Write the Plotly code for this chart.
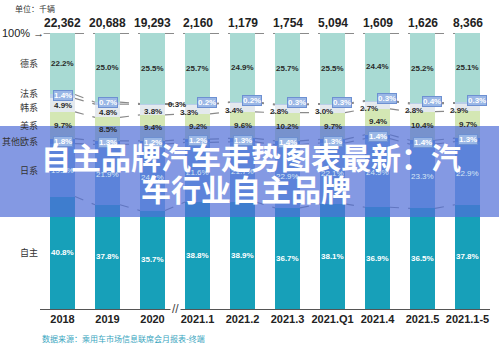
import plotly.graph_objects as go

categories = ["2018", "2019", "2020", "2021.1", "2021.2", "2021.3", "2021.Q1", "2021.4", "2021.5", "2021.1-5"]
totals = [22362, 20688, 19293, 2160, 1179, 1754, 5094, 1609, 1626, 8366]
zizhu = [40.8, 37.8, 35.7, 38.8, 38.9, 36.7, 38.1, 36.9, 36.5, 37.8]
rixi = [19.2, 21.9, 24.1, 21.6, 21.7, 22.9, 22.1, 24.9, 23.3, 22.9]
qita_ou = [1.8, 1.3, 1.2, 1.2, 1.3, 1.4, 1.3, 1.4, 1.4, 1.3]
meixi = [9.7, 8.5, 9.4, 9.2, 9.6, 10.2, 9.7, 9.4, 10.4, 9.7]
hanxi = [4.9, 4.8, 3.8, 3.3, 3.4, 2.8, 3.0, 2.7, 2.8, 2.9]
faxi = [1.4, 0.7, 0.3, 0.2, 0.2, 0.3, 0.3, 0.3, 0.4, 0.3]
dexi = [22.2, 25.0, 25.5, 25.7, 24.9, 25.7, 25.5, 24.4, 25.2, 25.1]

series_names = ["自主", "日系", "其他欧系", "美系", "韩系", "法系", "德系"]
series_vals = [zizhu, rixi, qita_ou, meixi, hanxi, faxi, dexi]
colors = ["#17a0b9", "#78b4e2", "#5b9bd5", "#d4e7b4", "#e4e9ee", "#b8cfe8", "#a8dad3"]

FONT = "Noto Sans CJK SC, Liberation Sans, sans-serif"
NUMFONT = "Liberation Sans, Arial, sans-serif"
BW = 0.556
xs = list(range(len(categories)))
YMAX = 100.1

fig = go.Figure()
for name, vals, col in zip(series_names, series_vals, colors):
    fig.add_trace(go.Bar(x=xs, y=vals, name=name, marker=dict(color=col, line=dict(width=0)),
                         width=BW, showlegend=False, hoverinfo="skip"))

n = len(categories)
cum = [[0.0] * n]
for vals in series_vals:
    cum.append([round(cum[-1][i] + vals[i], 6) for i in range(n)])

for b in range(1, len(cum)):
    cx, cy = [], []
    for i in range(n - 1):
        cx += [i + BW / 2, i + 1 - BW / 2, None]
        cy += [cum[b][i], cum[b][i + 1], None]
    fig.add_trace(go.Scatter(x=cx, y=cy, mode="lines", line=dict(color="#8a8a8a", width=1.2, dash="dash"),
                             showlegend=False, hoverinfo="skip"))
fig.add_trace(go.Scatter(x=[-0.42, -BW / 2], y=[cum[-1][0], cum[-1][0]], mode="lines",
                         line=dict(color="#8a8a8a", width=1.2, dash="dash"), showlegend=False, hoverinfo="skip"))

ann = []
left_shift = {"法系": 3, "韩系": -2}
for s, (name, vals) in enumerate(zip(series_names, series_vals)):
    for i in range(n):
        mid = (cum[s][i] + cum[s + 1][i]) / 2
        txt = f"{vals[i]:.1f}%"
        a = dict(x=i, y=mid, xref="x", yref="y", text=txt, showarrow=False,
                 font=dict(family=NUMFONT, size=8, color="#2a2a2a", weight="bold"))
        if name == "自主":
            a["font"]["color"] = "white"
        elif name == "日系":
            a["font"]["color"] = "#d6e6f5"
            a["font"]["weight"] = "normal"
        elif name in ("其他欧系", "法系"):
            a["font"]["color"] = "white"
            a["bgcolor"] = "#9ab7e6"
            a["bordercolor"] = "#6d90d2"
            a["borderwidth"] = 1
            a["borderpad"] = 0
            if name == "法系":
                if i == 2:
                    a["xshift"] = 24
                    a.pop("bgcolor"); a.pop("bordercolor"); a.pop("borderwidth")
                    a["font"]["color"] = "#2a2a2a"
                elif i >= 3:
                    a["xshift"] = 9
                    a["yshift"] = 2
                else:
                    a["yshift"] = 1
        elif name == "韩系":
            if i >= 3:
                a["xshift"] = -9
                a["yshift"] = -1
            if i >= 1:
                a["yshift"] = a.get("yshift", 0) - 2
        ann.append(a)
    ann.append(dict(x=-0.5, y=(cum[s][0] + cum[s + 1][0]) / 2, xref="x", yref="y", text=name,
                    xanchor="right", yshift=left_shift.get(name, 0), showarrow=False,
                    font=dict(family=FONT, size=9, color="#333")))

for i in range(n):
    ann.append(dict(x=i, y=cum[-1][i], xref="x", yref="y", text=f"{totals[i]:,}", yanchor="bottom",
                    yshift=1, showarrow=False, font=dict(family=NUMFONT, size=12, color="#222", weight="bold")))

ann.append(dict(x=-0.5, y=100, xref="x", yref="y", text="100% →", xanchor="right", xshift=6, showarrow=False,
                font=dict(family=NUMFONT, size=11, color="#222")))
ann.append(dict(x=-27 / 450, y=1.0, xref="paper", yref="paper", text="单位：千辆", xanchor="left", yanchor="bottom",
                yshift=17, showarrow=False, font=dict(family=FONT, size=8, color="#333")))
ann.append(dict(x=0, y=0, xref="paper", yref="paper", text="数据来源：乘用车市场信息联席会月报表-终端",
                xanchor="left", yanchor="top", yshift=-22, showarrow=False,
                font=dict(family=FONT, size=8, color="#3aa6c0")))
ann.append(dict(x=2.5, y=0, xref="x", yref="y", text="//", showarrow=False,
                font=dict(family=NUMFONT, size=12, color="#444"), bgcolor="white"))

ann.append(dict(x=0.5, y=1, xref="paper", yref="paper", text="自主品牌汽车走势图表最新：汽", showarrow=False,
                xanchor="center", yanchor="middle", xshift=-14, yshift=-123,
                font=dict(family="Noto Sans CJK SC", size=30, color="white", weight="bold")))
ann.append(dict(x=0.5, y=1, xref="paper", yref="paper", text="车行业自主品牌", showarrow=False,
                xanchor="center", yanchor="middle", xshift=-19, yshift=-155,
                font=dict(family="Noto Sans CJK SC", size=30, color="white", weight="bold")))

fig.update_layout(
    width=499, height=349,
    margin=dict(l=40, r=9, t=33, b=40),
    paper_bgcolor="white", plot_bgcolor="white",
    barmode="stack",
    annotations=ann,
    shapes=[dict(type="rect", xref="paper", yref="paper", x0=-0.1, x1=1.03,
                 y0=(309 - 217) / 276, y1=(309 - 126) / 276,
                 fillcolor="rgba(80,110,215,0.7)", line=dict(width=0), layer="above")],
    xaxis=dict(range=[-0.5, n - 0.5], tickvals=xs, ticktext=categories, showgrid=False, zeroline=False,
               showline=True, linecolor="#555", linewidth=1.2, ticks="",
               tickfont=dict(family=NUMFONT, size=11, color="#222", weight="bold")),
    yaxis=dict(range=[0, YMAX], visible=False),
)

fig.write_html("out.html")
